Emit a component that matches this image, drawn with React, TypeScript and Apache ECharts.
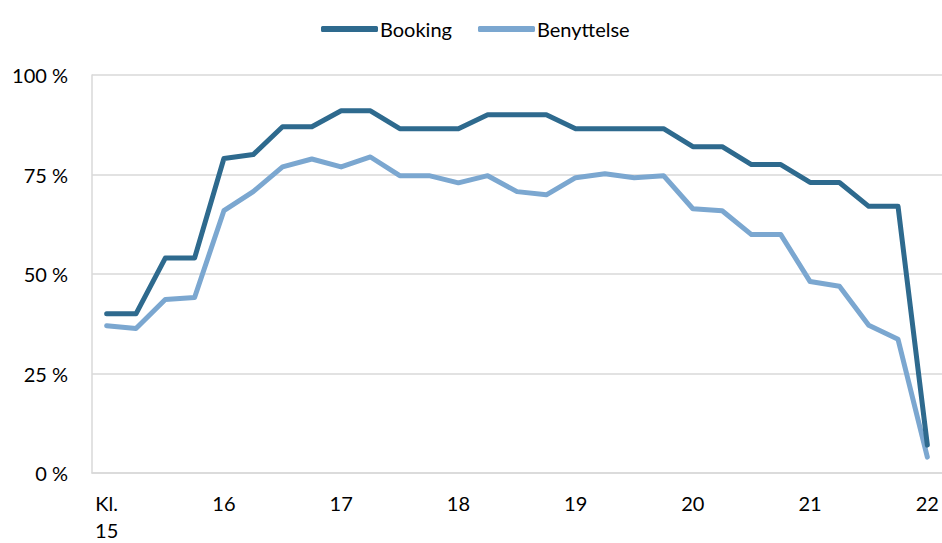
import React, { useEffect, useRef } from "react";
import * as echarts from "echarts";

const times: string[] = [];
for (let h = 15; h <= 22; h++) {
  for (const m of ["00", "15", "30", "45"]) {
    if (h === 22 && m !== "00") continue;
    times.push(`${h}:${m}`);
  }
}

const booking = [40, 40, 54, 54, 79, 80, 87, 87, 91, 91, 86.5, 86.5, 86.5, 90, 90, 90, 86.5, 86.5, 86.5, 86.5, 82, 82, 77.5, 77.5, 73, 73, 67, 67, 7];
const benyttelse = [37, 36.3, 43.6, 44.1, 65.9, 70.7, 76.9, 78.9, 76.9, 79.4, 74.7, 74.7, 72.9, 74.7, 70.7, 69.9, 74.2, 75.2, 74.2, 74.7, 66.4, 65.9, 59.9, 59.9, 48.1, 46.9, 37.1, 33.6, 4];

const FONT = "Lato";

export default function App() {
  const ref = useRef<HTMLDivElement>(null);
  useEffect(() => {
    if (!ref.current) return;
    const chart = echarts.init(ref.current, null, { renderer: "svg" });
    chart.setOption({
      animation: false,
      backgroundColor: "#ffffff",
      textStyle: { fontFamily: FONT },
      legend: {
        left: 316,
        top: 14,
        itemWidth: 57,
        itemHeight: 6,
        itemGap: 26,
        icon: "roundRect",
        textStyle: { fontSize: 20, color: "#000", fontFamily: FONT, padding: [0, 0, 0, -3] },
        data: ["Booking", "Benyttelse"],
      },
      grid: { left: 92, top: 75, height: 399, width: 854 },
      xAxis: {
        type: "category",
        data: times,
        boundaryGap: true,
        axisLine: { lineStyle: { color: "#d9d9d9", width: 1.5 } },
        axisTick: { show: false },
        axisLabel: {
          interval: 3,
          color: "#000",
          fontSize: 20,
          fontFamily: FONT,
          margin: 16,
          lineHeight: 27,
          formatter: (v: string, i: number) => (i === 0 ? "Kl.\n15" : v.split(":")[0]),
        },
      },
      yAxis: {
        type: "value",
        min: 0,
        max: 100,
        interval: 25,
        axisLine: { show: true, lineStyle: { color: "#d9d9d9", width: 1.5 } },
        axisTick: { show: false },
        splitLine: { lineStyle: { color: "#d9d9d9", width: 1.5 } },
        axisLabel: { color: "#000", fontSize: 20, fontFamily: FONT, margin: 24, formatter: "{value} %" },
      },
      series: [
        {
          name: "Booking",
          type: "line",
          data: booking,
          symbol: "none",
          lineStyle: { color: "#2e6a8e", width: 5, cap: "round", join: "round" },
          itemStyle: { color: "#2e6a8e" },
          z: 3,
        },
        {
          name: "Benyttelse",
          type: "line",
          data: benyttelse,
          symbol: "none",
          lineStyle: { color: "#7ba7d0", width: 5, cap: "round", join: "round" },
          itemStyle: { color: "#7ba7d0" },
          z: 2,
        },
      ],
    });
    return () => chart.dispose();
  }, []);
  return <div ref={ref} style={{ width: 942, height: 543, position: "absolute", left: 0, top: 0 }} />;
}
